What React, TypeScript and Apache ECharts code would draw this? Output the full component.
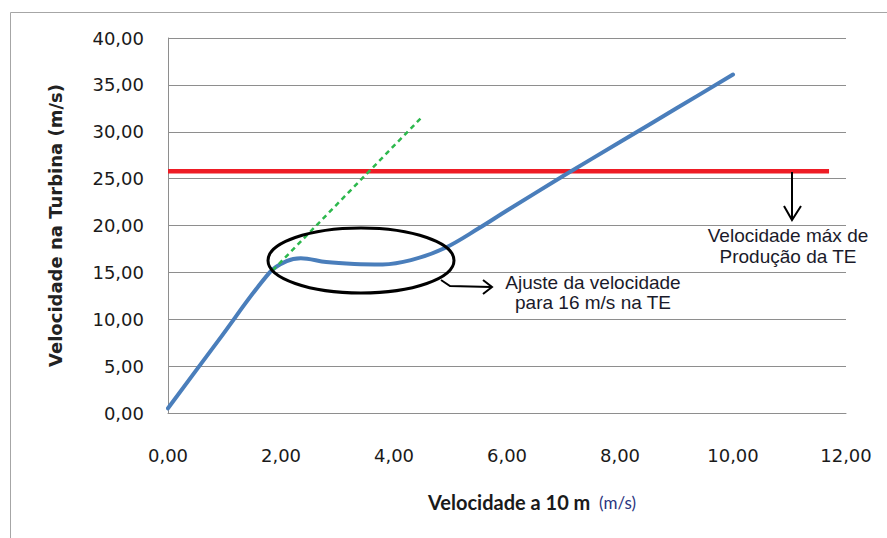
import React, { useEffect, useRef } from "react";
import * as echarts from "echarts";

// Wind speed at 10 m (m/s) vs. speed at the turbine (m/s)
const turbineX = [0, 0.9, 1.8, 2.1, 2.35, 2.8, 3.3, 3.8, 4.3, 4.9, 5.5, 6, 7, 8, 9, 10];
const turbineY = [0.5, 7.8, 15.0, 16.2, 16.5, 16.1, 15.9, 15.85, 16.3, 17.6, 19.7, 21.6, 25.3, 28.9, 32.5, 36.1];

const limitX = [0, 11.7];
const limitY = [25.8, 25.8];

const trendX = [1.85, 4.5];
const trendY = [15.2, 31.6];

const xTicks = { min: 0, max: 12, interval: 2 };
const yTicks = { min: 0, max: 40, interval: 5 };

const xTitle = "Velocidade a 10 m";
const xUnit = "(m/s)";
const yTitle = "Velocidade na Turbina (m/s)";
const noteAdjust = "Ajuste da velocidade\npara 16 m/s na TE";
const noteMax = "Velocidade máx de\nProdução da TE";

const pairs = (xs: number[], ys: number[]) => xs.map((x, i) => [x, ys[i]]);
const fmt = (v: number) => v.toFixed(2).replace(".", ",");

export default function App() {
  const ref = useRef<HTMLDivElement>(null);
  useEffect(() => {
    if (!ref.current) return;
    const chart = echarts.init(ref.current, null, { renderer: "svg" });
    const tickFont = { fontFamily: "DejaVu Sans", fontSize: 18, color: "#1a1a1a" };
    chart.setOption({
      animation: false,
      backgroundColor: "#ffffff",
      grid: { left: 168, top: 38, right: 41, bottom: 125 },
      xAxis: {
        type: "value",
        min: xTicks.min,
        max: xTicks.max,
        interval: xTicks.interval,
        axisLine: { show: true, lineStyle: { color: "#8e8e8e", width: 1 } },
        axisTick: { show: false },
        splitLine: { show: false },
        axisLabel: { ...tickFont, margin: 33, formatter: fmt },
        name: `{b|${xTitle}}{n|  ${xUnit}}`,
        nameLocation: "middle",
        nameGap: 79,
        nameTextStyle: {
          padding: [0, 0, 0, 50],
          rich: {
            b: { fontFamily: "Lato", fontWeight: "bold", fontSize: 20, color: "#1a1a1a" },
            n: { fontFamily: "Lato", fontSize: 17, color: "#2b3580" },
          },
        },
      },
      yAxis: {
        type: "value",
        min: yTicks.min,
        max: yTicks.max,
        interval: yTicks.interval,
        axisLine: { show: true, lineStyle: { color: "#8e8e8e", width: 1 } },
        axisTick: { show: false },
        splitLine: { show: true, lineStyle: { color: "#8e8e8e", width: 1 } },
        axisLabel: { ...tickFont, margin: 24, formatter: fmt },
        name: yTitle,
        nameLocation: "middle",
        nameGap: 104,
        nameTextStyle: { fontFamily: "DejaVu Sans", fontWeight: "bold", fontSize: 18, color: "#222" },
      },
      series: [
        {
          type: "line",
          data: pairs(limitX, limitY),
          symbol: "none",
          lineStyle: { color: "#ee1c25", width: 4.5, cap: "butt" },
          z: 3,
        },
        {
          type: "line",
          data: pairs(turbineX, turbineY),
          symbol: "none",
          smooth: 0.35,
          lineStyle: { color: "#4a7ebb", width: 4, cap: "round" },
          z: 4,
        },
        {
          type: "line",
          data: pairs(trendX, trendY),
          symbol: "none",
          lineStyle: { color: "#2db84d", width: 2.5, type: [5, 4] },
          z: 5,
        },
      ],
      graphic: [
        {
          type: "rect",
          shape: { x: 10.5, y: 12.5, width: 900, height: 600 },
          style: { fill: "none", stroke: "#a6a6a6", lineWidth: 1 },
          silent: true,
          z: 0,
        },
        {
          type: "ellipse",
          shape: { cx: 361, cy: 260.5, rx: 93, ry: 32.5 },
          style: { fill: "none", stroke: "#000", lineWidth: 3 },
          z: 10,
        },
        {
          type: "polyline",
          shape: { points: [[441, 280], [450, 286], [491, 287]] },
          style: { fill: "none", stroke: "#000", lineWidth: 2 },
          z: 10,
        },
        {
          type: "polyline",
          shape: { points: [[483, 280], [492, 287], [483, 294]] },
          style: { fill: "none", stroke: "#000", lineWidth: 2 },
          z: 10,
        },
        {
          type: "text",
          x: 593,
          y: 292,
          style: {
            text: noteAdjust,
            fontFamily: "Liberation Sans",
            fontSize: 19,
            lineHeight: 20,
            fill: "#1a1a2a",
            align: "center",
            verticalAlign: "middle",
          },
          z: 10,
        },
        {
          type: "line",
          shape: { x1: 792, y1: 172, x2: 792, y2: 219 },
          style: { stroke: "#000", lineWidth: 2 },
          z: 10,
        },
        {
          type: "polyline",
          shape: { points: [[784, 206], [792, 220], [801, 206]] },
          style: { fill: "none", stroke: "#000", lineWidth: 2 },
          z: 10,
        },
        {
          type: "text",
          x: 788,
          y: 246,
          style: {
            text: noteMax,
            fontFamily: "Liberation Sans",
            fontSize: 19,
            lineHeight: 21,
            fill: "#1a1a2a",
            align: "center",
            verticalAlign: "middle",
          },
          z: 10,
        },
      ],
    });
    return () => chart.dispose();
  }, []);
  return (
    <div
      ref={ref}
      style={{ position: "fixed", left: 0, top: 0, width: 887, height: 538, background: "#fff" }}
    />
  );
}
